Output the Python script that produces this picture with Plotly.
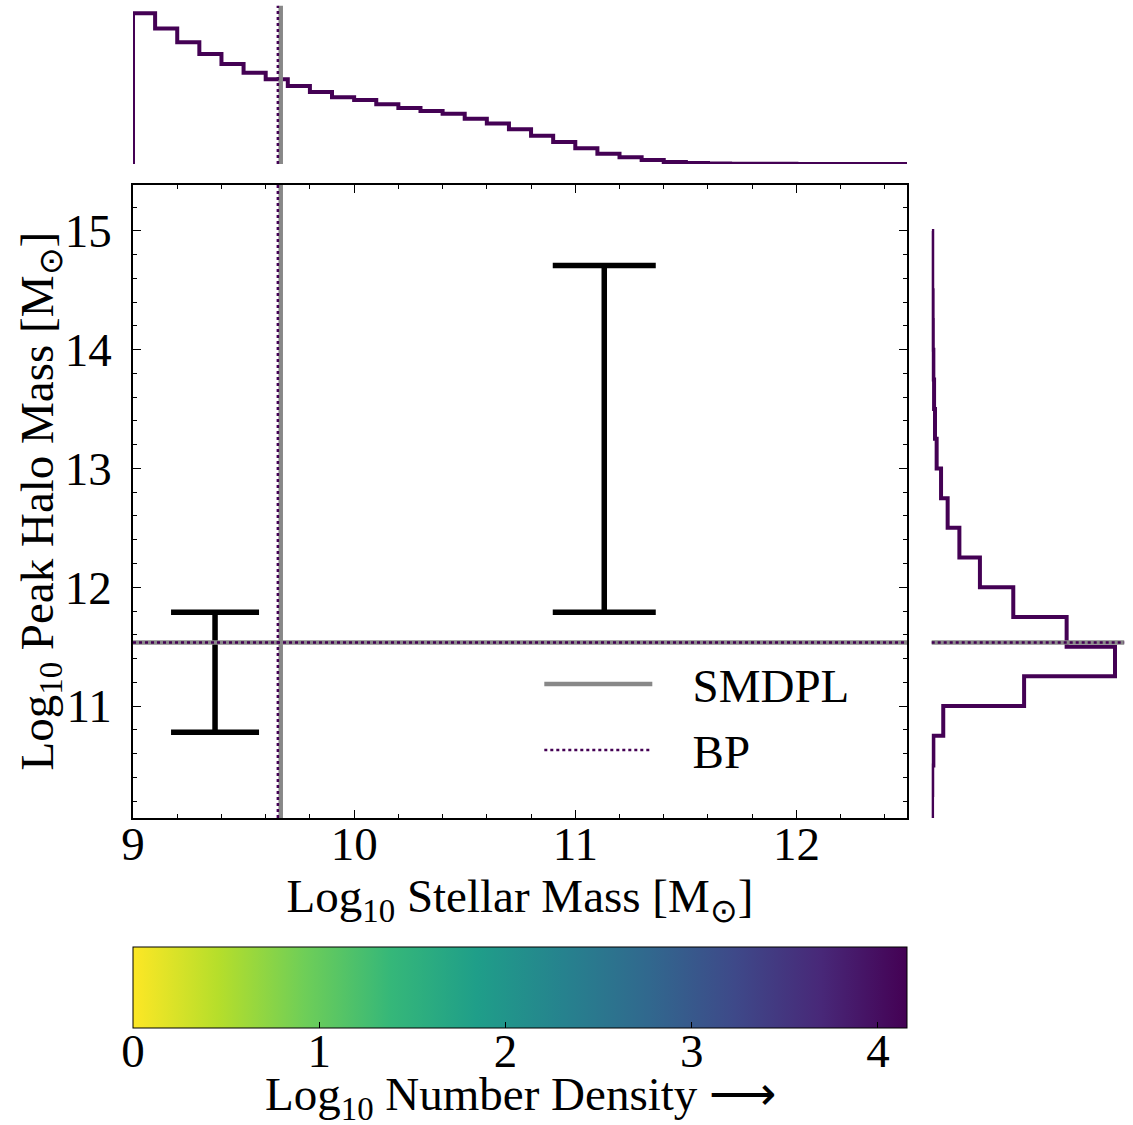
import plotly.graph_objects as go

# ---------------- data ----------------
# top histogram: stellar mass bins (0.1 dex), normalised counts
smass_edges = [9.0, 9.1, 9.2, 9.3, 9.4, 9.5, 9.6, 9.7, 9.8, 9.9, 10.0, 10.1, 10.2, 10.3,
               10.4, 10.5, 10.6, 10.7, 10.8, 10.9, 11.0, 11.1, 11.2, 11.3, 11.4, 11.5,
               11.6, 11.7, 11.8, 11.9, 12.0, 12.1, 12.2, 12.3, 12.4, 12.5]
smass_counts = [1.0, 0.900, 0.808, 0.730, 0.664, 0.606, 0.562, 0.518, 0.478, 0.443,
                0.425, 0.396, 0.372, 0.352, 0.334, 0.301, 0.269, 0.230, 0.188, 0.146,
                0.104, 0.068, 0.044, 0.027, 0.013, 0.007, 0.003, 0.002, 0.001, 0.001,
                0.0006, 0.0004, 0.0003, 0.0002, 0.0001]

# right histogram: peak halo mass bins (0.25 dex), normalised counts (bottom -> top)
halo_edges = [10.0, 10.25, 10.5, 10.75, 11.0, 11.25, 11.5, 11.75, 12.0, 12.25, 12.5,
              12.75, 13.0, 13.25, 13.5, 13.75, 14.0, 14.25, 14.5, 14.75, 15.0]
halo_counts = [0.002, 0.003, 0.009, 0.063, 0.504, 1.0, 0.736, 0.445, 0.263, 0.151,
               0.087, 0.051, 0.027, 0.018, 0.013, 0.009, 0.006, 0.005, 0.003, 0.003]

# error bars (stellar mass, halo mass low / high)
eb_smass = [9.371, 11.131]
eb_halo_lo = [10.78, 11.79]
eb_halo_hi = [11.79, 14.71]

# completeness / reference lines
smdpl_x, smdpl_y = 9.668, 11.535
bp_x, bp_y = 9.655, 11.535

# colour bar
cbar_min, cbar_max = 0.0, 4.156
cbar_ticks = [0, 1, 2, 3, 4]

# ---------------- styling ----------------
FONT = "Liberation Serif"
FS = 47
PURPLE = "#440154"
GRAY = "#888888"
NB = "\u00a0"

X_RANGE = [9.0, 12.5]
Y_RANGE = [10.057, 15.387]
X_DOM = [133 / 1133, 907 / 1133]
Y_DOM = [(1125 - 818) / 1125, (1125 - 185) / 1125]
TOP_DOM = [(1125 - 164) / 1125, (1125 - 5.8) / 1125]
RIGHT_DOM = [931.7 / 1133, 1124.2 / 1133]
CB_DOM = [(1125 - 1028) / 1125, (1125 - 947) / 1125]

fig = go.Figure()

# top histogram (step)
tx = [smass_edges[0]] + smass_edges[:-1] + [smass_edges[-1], smass_edges[-1]]
ty = [0] + smass_counts + [smass_counts[-1], 0]
fig.add_trace(go.Scatter(x=tx, y=ty, mode="lines", line=dict(color=PURPLE, width=4, shape="hv"),
                         xaxis="x2", yaxis="y2", showlegend=False, hoverinfo="skip"))

# right histogram (step, horizontal)
rx, ry = [0], [halo_edges[-1]]
for i in range(len(halo_counts) - 1, -1, -1):
    rx.append(halo_counts[i])
    ry.append(halo_edges[i + 1])
rx += [halo_counts[0], 0]
ry += [halo_edges[0], halo_edges[0]]
fig.add_trace(go.Scatter(x=rx, y=ry, mode="lines", line=dict(color=PURPLE, width=4, shape="vh"),
                         xaxis="x3", yaxis="y3", showlegend=False, hoverinfo="skip"))

# error bars
cap_half = [44, 51.5]
for i in range(len(eb_smass)):
    mid = (eb_halo_lo[i] + eb_halo_hi[i]) / 2
    half = (eb_halo_hi[i] - eb_halo_lo[i]) / 2
    fig.add_trace(go.Scatter(
        x=[eb_smass[i]], y=[mid], mode="markers",
        marker=dict(size=1, color="rgba(0,0,0,0)"),
        error_y=dict(type="data", array=[half], symmetric=True, color="black",
                     thickness=5.5, width=cap_half[i]),
        xaxis="x", yaxis="y", showlegend=False, hoverinfo="skip"))

# colour bar (gradient + inside ticks); its labels come from a matching axis below
cb = dict(orientation="h", x=0.5 * (X_DOM[0] + X_DOM[1]), xanchor="center",
          y=CB_DOM[1], yanchor="top",
          len=774, lenmode="pixels", thickness=81, thicknessmode="pixels",
          xpad=0, ypad=0, outlinewidth=1, outlinecolor="black",
          ticks="inside", ticklen=6, tickwidth=1, tickcolor="black",
          tickvals=cbar_ticks, showticklabels=False)
fig.add_trace(go.Scatter(
    x=[None], y=[None], mode="markers", xaxis="x", yaxis="y", showlegend=False,
    marker=dict(color=[cbar_min], cmin=cbar_min, cmax=cbar_max, colorscale="Viridis",
                reversescale=True, showscale=True, colorbar=cb)))
# axis carrying the colour-bar scale labels
fig.add_trace(go.Scatter(x=[None], y=[None], mode="markers", xaxis="x4", yaxis="y4",
                         showlegend=False, hoverinfo="skip"))

# legend entries
fig.add_trace(go.Scatter(x=[None], y=[None], mode="lines", name=NB * 3 + "SMDPL", legendgroup="a",
                         line=dict(color=GRAY, width=4.5), xaxis="x", yaxis="y"))
fig.add_trace(go.Scatter(x=[None], y=[None], mode="lines", name=NB * 3 + "BP", legendgroup="b",
                         line=dict(color=PURPLE, width=2.5, dash="dot"), xaxis="x", yaxis="y"))

# reference lines
shapes = []
for xv, yv, col, w, dash in [(smdpl_x, smdpl_y, GRAY, 4.5, "solid"), (bp_x, bp_y, PURPLE, 2.5, "dot")]:
    ln = dict(color=col, width=w, dash=dash)
    shapes.append(dict(type="line", xref="x", yref="y domain", x0=xv, x1=xv, y0=0, y1=1, line=ln))
    shapes.append(dict(type="line", xref="x2", yref="y2 domain", x0=xv, x1=xv, y0=0, y1=1, line=ln))
    shapes.append(dict(type="line", xref="x domain", yref="y", x0=0, x1=1, y0=yv, y1=yv, line=ln))
    shapes.append(dict(type="line", xref="x3 domain", yref="y3", x0=0, x1=1, y0=yv, y1=yv, line=ln))

axis_common = dict(showline=True, linecolor="black", linewidth=1.5, mirror="allticks",
                   ticks="inside", ticklen=8, tickwidth=1.2, tickcolor="black",
                   showgrid=False, zeroline=False, automargin=False,
                   tickfont=dict(family=FONT, size=FS, color="black"))

fig.update_layout(
    width=1133, height=1125,
    margin=dict(l=0, r=0, t=0, b=0),
    paper_bgcolor="white", plot_bgcolor="white",
    font=dict(family=FONT, size=FS, color="black"),
    shapes=shapes,
    annotations=[
        dict(text="Log<sub>10</sub> Peak Halo Mass [M<sub>\u2299</sub>]", xref="paper",
             yref="paper", x=40 / 1133, y=0.5 * (Y_DOM[0] + Y_DOM[1]),
             xanchor="center", yanchor="middle", textangle=-90, showarrow=False,
             font=dict(family=FONT, size=FS, color="black")),
        dict(text="Log<sub>10</sub> Number Density \u27f6", xref="paper", yref="paper",
             x=0.5 * (X_DOM[0] + X_DOM[1]), y=(1125 - 1097) / 1125,
             xanchor="center", yanchor="middle", showarrow=False,
             font=dict(family=FONT, size=FS, color="black")),
    ],
    xaxis=dict(domain=X_DOM, range=X_RANGE, anchor="y", dtick=1, tick0=0,
               minor=dict(dtick=0.2, ticks="inside", ticklen=4, tickcolor="black"),
               ticklabelstandoff=-16,
               title=dict(text="Log<sub>10</sub> Stellar Mass [M<sub>\u2299</sub>]", standoff=6,
                          font=dict(family=FONT, size=FS)),
               **axis_common),
    yaxis=dict(domain=Y_DOM, range=Y_RANGE, anchor="x", dtick=1, tick0=0,
               minor=dict(dtick=0.2, ticks="inside", ticklen=4, tickcolor="black"),
               ticklabelstandoff=10, **axis_common),
    xaxis2=dict(domain=X_DOM, range=X_RANGE, anchor="y2", visible=False),
    yaxis2=dict(domain=TOP_DOM, range=[0, 1.05], anchor="x2", visible=False),
    xaxis3=dict(domain=RIGHT_DOM, range=[0, 1.05], anchor="y3", visible=False),
    yaxis3=dict(domain=Y_DOM, range=Y_RANGE, anchor="x3", visible=False),
    xaxis4=dict(domain=X_DOM, range=[cbar_min, cbar_max], anchor="y4", tickvals=cbar_ticks,
                showline=False, ticks="", showgrid=False, zeroline=False, automargin=False,
                ticklabelstandoff=-9, tickfont=dict(family=FONT, size=FS, color="black")),
    yaxis4=dict(domain=CB_DOM, range=[0, 1], anchor="x4", visible=False),
    showlegend=True,
    legend=dict(x=0.476, y=0.425, xanchor="left", yanchor="top", bgcolor="rgba(0,0,0,0)",
                font=dict(family=FONT, size=FS, color="black"), itemwidth=108,
                tracegroupgap=2),
)

fig.write_html("out.html")
